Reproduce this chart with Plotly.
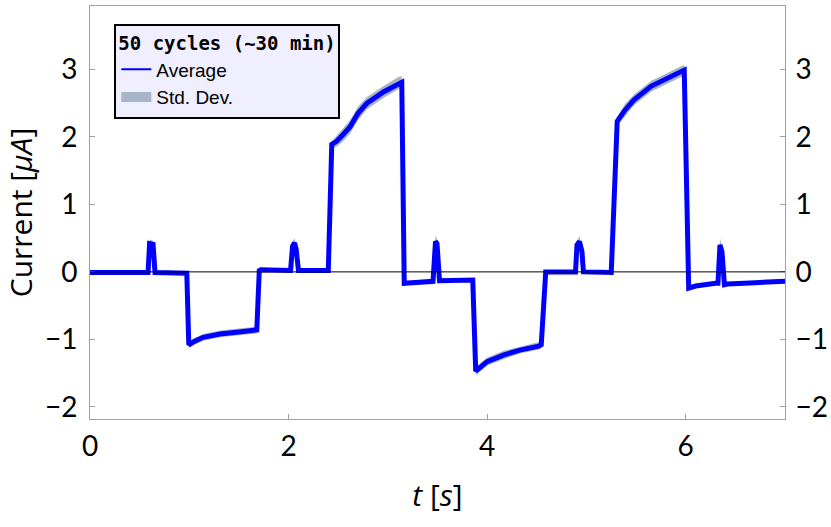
import plotly.graph_objects as go

# averaged current trace (t in s, current in uA)
t = [0.00, 0.30, 0.585, 0.600, 0.635, 0.655, 0.975, 0.995, 1.05, 1.14, 1.31, 1.50, 1.68, 1.705,
     1.72, 2.02, 2.04, 2.06, 2.075, 2.10, 2.40, 2.435, 2.48, 2.54, 2.62, 2.70, 2.79, 2.96, 3.11, 3.14,
     3.165, 3.30, 3.455, 3.48, 3.495, 3.52, 3.70, 3.855, 3.885, 4.00, 4.17, 4.33, 4.52, 4.545,
     4.59, 4.89, 4.905, 4.93, 4.955, 4.97, 5.25, 5.29, 5.31, 5.39, 5.48, 5.65, 5.81, 5.97, 5.985,
     6.03, 6.10, 6.30, 6.325, 6.345, 6.365, 6.39, 6.42, 6.70, 7.00]
current_avg = [-0.01, -0.01, -0.01, 0.42, 0.41, -0.01, -0.02, -1.08, -1.03, -0.97, -0.92, -0.89, -0.86, 0.02,
               0.03, 0.02, 0.38, 0.43, 0.35, 0.02, 0.02, 1.89, 1.93, 2.02, 2.15, 2.35, 2.50, 2.67, 2.80, 2.81,
               -0.17, -0.16, -0.14, 0.45, 0.42, -0.13, -0.12, -0.12, -1.47, -1.33, -1.23, -1.16, -1.10, -1.08,
               0.00, 0.00, 0.40, 0.45, 0.30, 0.00, -0.01, 1.50, 2.23, 2.40, 2.55, 2.75, 2.87, 2.98, 2.99,
               -0.24, -0.21, -0.17, -0.17, 0.40, 0.30, -0.19, -0.18, -0.16, -0.14]
current_std = [0.02, 0.02, 0.03, 0.06, 0.05, 0.03, 0.03, 0.05, 0.05, 0.05, 0.05, 0.05, 0.05, 0.03,
               0.02, 0.02, 0.06, 0.07, 0.06, 0.03, 0.02, 0.05, 0.08, 0.10, 0.10, 0.10, 0.09, 0.09, 0.09, 0.09,
               0.03, 0.02, 0.03, 0.09, 0.07, 0.04, 0.02, 0.02, 0.06, 0.06, 0.06, 0.05, 0.05, 0.05,
               0.02, 0.02, 0.06, 0.08, 0.06, 0.03, 0.02, 0.05, 0.07, 0.09, 0.08, 0.08, 0.08, 0.08, 0.08,
               0.03, 0.03, 0.02, 0.03, 0.10, 0.08, 0.04, 0.03, 0.02, 0.02]

x_ticks = [0, 2, 4, 6]
y_ticks = [-2, -1, 0, 1, 2, 3]

upper = [a + s for a, s in zip(current_avg, current_std)]
lower = [a - s for a, s in zip(current_avg, current_std)]

tick_font = dict(family='Lato, Open Sans, sans-serif', size=28, color='black')
title_font = dict(family='Open Sans, sans-serif', size=30, color='black')
band_color = '#a6b6c8'

fig = go.Figure()
fig.add_trace(go.Scatter(x=t + t[::-1], y=upper + lower[::-1], fill='toself',
                         fillcolor=band_color, line=dict(width=0, color=band_color),
                         mode='lines', showlegend=False, hoverinfo='skip'))
fig.add_trace(go.Scatter(x=t, y=current_avg, mode='lines', line=dict(color='#0000ff', width=5),
                         showlegend=False, name='Average'))
# legend-only entries (thin line, thick swatch)
fig.add_trace(go.Scatter(x=[None], y=[None], mode='lines', line=dict(color='#0000ff', width=2),
                         name='Average', legendrank=1))
fig.add_trace(go.Scatter(x=[None], y=[None], mode='lines', line=dict(color=band_color, width=12),
                         name='Std. Dev.', legendrank=2))
# invisible trace to carry the mirrored right axis labels
fig.add_trace(go.Scatter(x=[None], y=[None], yaxis='y2', showlegend=False))

axis_common = dict(showline=True, linecolor='#a0a0a0', linewidth=1, ticks='inside', ticklen=5,
                   tickcolor='#a0a0a0', showgrid=False, zeroline=False, tickfont=tick_font,
                   automargin=False)

fig.update_layout(
    width=831, height=527,
    margin=dict(l=90, r=46, t=6, b=108),
    plot_bgcolor='white', paper_bgcolor='white',
    xaxis=dict(range=[0, 7.0], tickvals=x_ticks, mirror=True, ticklabelstandoff=2,
               title=dict(text='<i>t</i> [<i>s</i>]', font=title_font, standoff=24),
               **axis_common),
    yaxis=dict(range=[-2.18, 3.94], tickvals=y_ticks, ticklabelstandoff=6,
               title=dict(text='Current [<i>μA</i>]', font=title_font, standoff=4),
               **axis_common),
    yaxis2=dict(range=[-2.18, 3.94], tickvals=y_ticks, overlaying='y', side='right',
                ticklabelstandoff=4, **axis_common),
    legend=dict(x=0.035, y=0.957, xanchor='left', yanchor='top', bgcolor='#efefff',
                bordercolor='black', borderwidth=2, tracegroupgap=0,
                font=dict(family='Liberation Sans, Arial, sans-serif', size=19, color='black'),
                title=dict(text='<b>50 cycles (~30 min)</b>',
                           font=dict(family='DejaVu Sans Mono, monospace', size=19))),
    showlegend=True,
)
fig.add_shape(type='line', xref='paper', x0=0, x1=1, yref='y', y0=0, y1=0,
              line=dict(color='black', width=1), layer='above')

fig.write_html('out.html', config={'displayModeBar': False},
               post_script="document.body.style.margin='0';")
